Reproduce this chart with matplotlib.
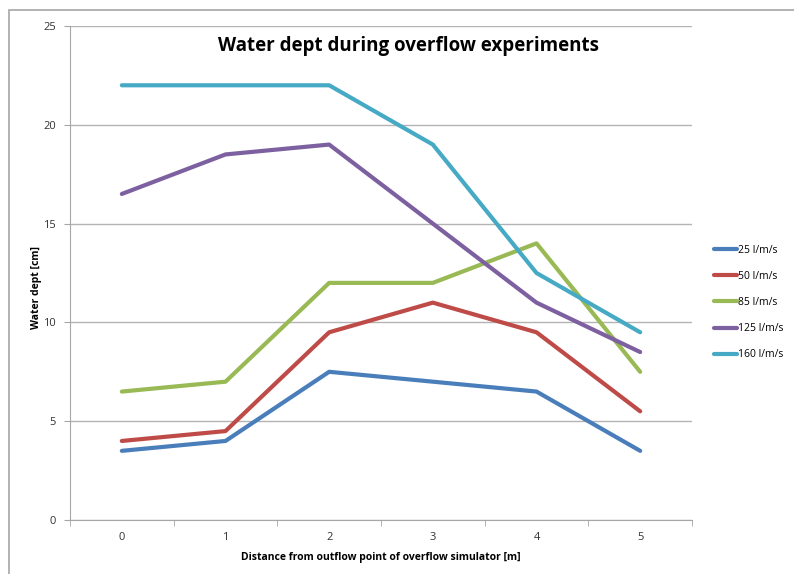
import numpy as np
import matplotlib.pyplot as plt
from matplotlib.patches import Rectangle

# Дані
distance = [0, 1, 2, 3, 4, 5]
flow_labels = ['25 l/m/s', '50 l/m/s', '85 l/m/s', '125 l/m/s', '160 l/m/s']
depth_25 = [3.5, 4, 7.5, 7, 6.5, 3.5]
depth_50 = [4, 4.5, 9.5, 11, 9.5, 5.5]
depth_85 = [6.5, 7, 12, 12, 14, 7.5]
depth_125 = [16.5, 18.5, 19, 15, 11, 8.5]
depth_160 = [22, 22, 22, 19, 12.5, 9.5]
y_ticks = [0, 5, 10, 15, 20, 25]

series = [depth_25, depth_50, depth_85, depth_125, depth_160]
colors = ['#4A7EBB', '#BE4B48', '#98B954', '#7D60A0', '#46AAC5']

plt.rcParams['font.family'] = ['Open Sans', 'DejaVu Sans']

fig = plt.figure(figsize=(7.94, 5.74), dpi=100)
# рамка навколо діаграми (обрізана справа і знизу)
fig.patches.append(Rectangle((9 / 794, -0.1), 1.2, 1 - 10 / 574 + 0.1,
                             transform=fig.transFigure, fill=False,
                             edgecolor='#A6A6A6', lw=1.2))

ax = fig.add_axes([70 / 794, 54 / 574, 622 / 794, 494 / 574])

for vals, c, lab in zip(series, colors, flow_labels):
    ax.plot(distance, vals, color=c, lw=3, label=lab, solid_capstyle='round')

ax.set_xlim(-0.5, 5.5)
ax.set_ylim(0, 25)
ax.set_yticks(y_ticks)
ax.set_xticks(distance)
ax.set_xticks(np.arange(-0.5, 6, 1), minor=True)
ax.tick_params(axis='x', which='major', length=0, pad=9, labelsize=8, colors='#333333')
ax.tick_params(axis='x', which='minor', length=4, direction='out', color='#A6A6A6')
ax.tick_params(axis='y', length=4, direction='out', color='#A6A6A6', labelsize=8,
               labelcolor='#333333', pad=6)
ax.grid(axis='y', color='#B3B3B3', lw=1)
ax.set_axisbelow(True)
for s in ['top', 'right']:
    ax.spines[s].set_visible(False)
for s in ['left', 'bottom']:
    ax.spines[s].set_color('#A6A6A6')

ax.set_xlabel('Distance from outflow point of overflow simulator [m]', fontsize=7.5,
              fontweight='bold', labelpad=6)
ax.set_ylabel('Water dept [cm]', fontsize=7.5, fontweight='bold')
ax.yaxis.set_label_coords(-28 / 622, 0.47)
fig.text(408 / 794, 1 - 46 / 574, 'Water dept during overflow experiments',
         ha='center', va='center', fontsize=13.5, fontweight='bold')

ax.legend(loc='center left', bbox_to_anchor=(1.02, 0.44), frameon=False,
          fontsize=7.5, handlelength=2.2, handletextpad=0.1, labelspacing=1.45)

plt.savefig('out.png', dpi=100)
